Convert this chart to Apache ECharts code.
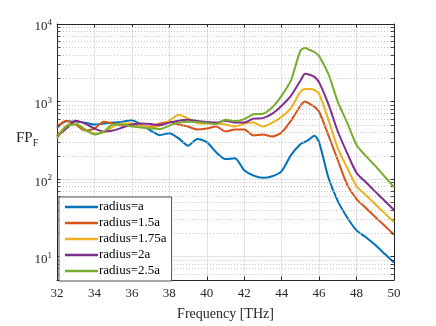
<!DOCTYPE html>
<html>
<head>
<meta charset="utf-8">
<script src="https://cdn.jsdelivr.net/npm/echarts@6/dist/echarts.min.js"></script>
<style>
  html, body { margin: 0; padding: 0; background: #fff; }
  #chart { width: 436px; height: 326px; }
</style>
</head>
<body>
<div id="chart"></div>
<script>
// frequency points [THz]
var freq = [32, 32.5, 33, 33.5, 34, 34.5, 35, 35.5, 36, 36.5, 37, 37.5, 38, 38.5, 39, 39.5, 40, 40.5,
            41, 41.5, 42, 42.5, 43, 43.5, 44, 44.5, 45, 45.25, 45.5, 45.75, 46, 46.5, 47, 47.5, 48, 48.5, 49, 49.5, 50];

// FP_F for each radius
var rA    = [460, 556, 551, 535, 505, 520, 535, 551, 576, 505, 423, 369, 391, 335, 270, 330, 300, 222,
             181, 186, 130, 111, 104, 109, 127, 204, 281, 302, 330, 362, 298, 104, 52, 32, 21.8, 17.8, 14.1, 10.9, 8.4];
var r15a  = [476, 567, 505, 424, 449, 551, 520, 490, 505, 490, 476, 520, 551, 505, 476, 436, 449, 476,
             411, 436, 436, 366, 377, 355, 400, 567, 882, 1000, 935, 856, 739, 366, 175, 85, 55, 42.3, 32.5, 25, 19.2];
var r175a = [355, 490, 520, 436, 388, 400, 476, 520, 520, 490, 462, 490, 567, 676, 602, 528, 520, 520,
             505, 476, 520, 535, 476, 535, 638, 831, 1329, 1451, 1451, 1409, 1254, 580, 249, 140, 81, 62, 47.5, 36.4, 27.9];
var r2a   = [355, 449, 567, 520, 449, 411, 424, 462, 505, 520, 513, 498, 535, 567, 584, 560, 544, 535,
             567, 535, 535, 602, 611, 697, 882, 1192, 1851, 2285, 2218, 2080, 1766, 920, 411, 216, 120, 91, 69, 52.5, 40];
var r25a  = [335, 476, 505, 436, 377, 411, 505, 505, 476, 462, 449, 443, 490, 535, 551, 544, 528, 513,
             584, 560, 593, 687, 697, 844, 1192, 1890, 4520, 4910, 4625, 4356, 3853, 2250, 990, 535, 275, 198, 148, 108, 79];

var names  = ['radius=a', 'radius=1.5a', 'radius=1.75a', 'radius=2a', 'radius=2.5a'];
var colors = ['#0072BD', '#D95319', '#EDB120', '#7E2F8E', '#77AC30'];
var xTicks = [32, 34, 36, 38, 40, 42, 44, 46, 48, 50];

// minor log grid values
var minorY = [];
[1, 10, 100, 1000].forEach(function (d) {
    for (var k = 2; k <= 9; k++) {
        if (k * d > 5) minorY.push(k * d);
    }
});

var axisColor = '#262626';
var serif = 'Liberation Serif';

var myChart = echarts.init(document.getElementById('chart'), null, {renderer: 'canvas'});

function pairs(arr) {
    return freq.map(function (f, i) { return [f, arr[i]]; });
}

var seriesData = [rA, r15a, r175a, r2a, r25a];
var series = seriesData.map(function (arr, i) {
    return {
        name: names[i],
        type: 'line',
        data: pairs(arr),
        showSymbol: false,
        smooth: 0.25,
        z: 3 + i,
        lineStyle: {width: 2, color: colors[i]},
        itemStyle: {color: colors[i]}
    };
});

// minor dotted grid lines
series.push({
    type: 'line',
    data: [],
    z: 1,
    silent: true,
    markLine: {
        silent: true,
        symbol: 'none',
        label: {show: false},
        animation: false,
        lineStyle: {type: [1, 2], color: '#c8c8c8', width: 1},
        data: minorY.map(function (v) { return {yAxis: v}; })
    }
});

// minor tick marks on left and right
var tickLen = 0.18;
var minorTickLines = [];
minorY.forEach(function (v) {
    minorTickLines.push([{coord: [32, v]}, {coord: [32 + tickLen, v]}]);
    minorTickLines.push([{coord: [50 - tickLen, v]}, {coord: [50, v]}]);
});
series.push({
    type: 'line',
    data: [],
    z: 2,
    silent: true,
    markLine: {
        silent: true,
        symbol: 'none',
        label: {show: false},
        animation: false,
        lineStyle: {type: 'solid', color: axisColor, width: 0.8},
        data: minorTickLines
    }
});

var option = {
    animation: false,
    backgroundColor: '#fff',
    grid: {left: 57, right: 42, top: 24, bottom: 43},
    legend: {
        data: names,
        orient: 'vertical',
        left: 59,
        top: 197,
        z: 30,
        padding: [3, 5, 3, 6],
        itemGap: 2,
        itemWidth: 33,
        itemHeight: 2.5,
        icon: 'rect',
        backgroundColor: '#fff',
        borderColor: axisColor,
        borderWidth: 0.8,
        borderRadius: 0,
        textStyle: {fontFamily: serif, fontSize: 13, lineHeight: 14, color: '#000', padding: [0, 0, 0, -4]}
    },
    xAxis: [{
        type: 'value',
        min: 32,
        max: 50,
        interval: 2,
        name: 'Frequency [THz]',
        nameLocation: 'middle',
        nameGap: 27,
        nameTextStyle: {fontFamily: serif, fontSize: 14, color: axisColor},
        axisLine: {show: true, lineStyle: {color: axisColor, width: 1}},
        axisTick: {show: true, inside: true, length: 3.5, lineStyle: {color: axisColor}},
        axisLabel: {fontFamily: serif, fontSize: 13, color: axisColor, margin: 7,
            formatter: function (v) { return xTicks.indexOf(v) >= 0 ? String(v) : ''; }},
        splitLine: {show: true, lineStyle: {color: '#e3e3e3', width: 1}}
    }, {
        type: 'value',
        position: 'top',
        min: 32,
        max: 50,
        interval: 2,
        axisLine: {show: true, lineStyle: {color: axisColor, width: 1}},
        axisTick: {show: true, inside: true, length: 3.5, lineStyle: {color: axisColor}},
        axisLabel: {show: false},
        splitLine: {show: false}
    }],
    yAxis: [{
        type: 'log',
        logBase: 10,
        min: 5,
        max: 10000,
        axisLine: {show: true, lineStyle: {color: axisColor, width: 1}},
        axisTick: {show: true, inside: true, length: 3.5, lineStyle: {color: axisColor}},
        axisLabel: {
            margin: 5,
            color: axisColor,
            padding: [4, 0, 0, 0],
            formatter: function (v) {
                var e = Math.round(Math.log10(v));
                if (Math.abs(Math.pow(10, e) - v) > 1e-6 * v) return '';
                return '{b|10}{s|' + e + '}';
            },
            rich: {
                b: {fontFamily: serif, fontSize: 13, color: axisColor, lineHeight: 15, verticalAlign: 'bottom', padding: [4, 0, 0, 0]},
                s: {fontFamily: serif, fontSize: 9, color: axisColor, lineHeight: 10, verticalAlign: 'top'}
            }
        },
        splitLine: {show: true, lineStyle: {color: '#e3e3e3', width: 1}}
    }, {
        type: 'log',
        logBase: 10,
        min: 5,
        max: 10000,
        position: 'right',
        axisLine: {show: true, lineStyle: {color: axisColor, width: 1}},
        axisTick: {show: true, inside: true, length: 3.5, lineStyle: {color: axisColor}},
        axisLabel: {show: false},
        splitLine: {show: false}
    }],
    graphic: [{
        type: 'text',
        left: 16,
        top: 131,
        style: {
            text: '{a|FP}{b|F}',
            rich: {
                a: {fontFamily: serif, fontSize: 15, fill: axisColor, lineHeight: 20, verticalAlign: 'middle'},
                b: {fontFamily: serif, fontSize: 10, fill: axisColor, lineHeight: 20, verticalAlign: 'bottom'}
            }
        }
    }],
    series: series
};

myChart.setOption(option);
</script>
</body>
</html>
